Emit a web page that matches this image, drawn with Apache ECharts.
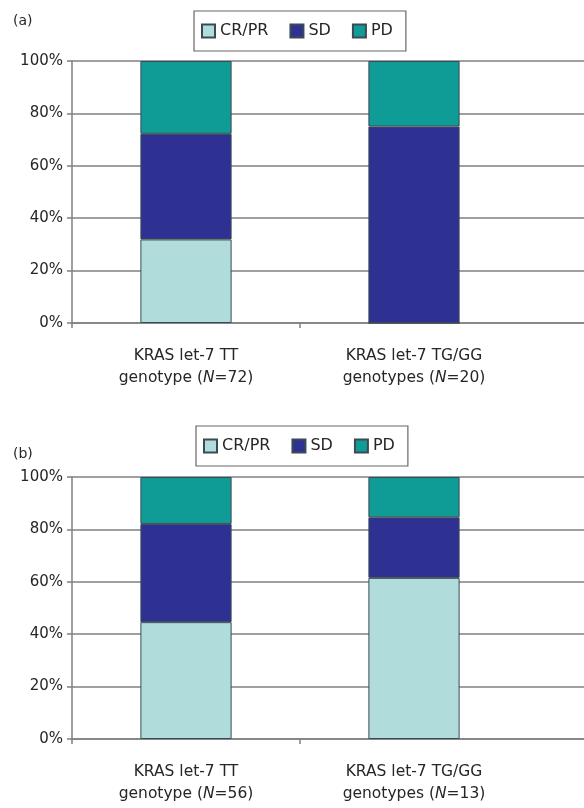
<!DOCTYPE html>
<html>
<head>
<meta charset="utf-8">
<style>
  html, body { margin: 0; padding: 0; background: #fff; }
  #chart { width: 584px; height: 808px; }
</style>
<script src="https://cdn.jsdelivr.net/npm/echarts@6/dist/echarts.min.js"></script>
</head>
<body>
<div id="chart"></div>
<script>
// Response categories and their colours
const responseNames = ['CR/PR', 'SD', 'PD'];
const responseColors = ['#b0dcdc', '#2e3192', '#0f9b96'];

// Genotype groups (first and second label lines per panel)
const genotypeLine1 = ['KRAS let-7 TT', 'KRAS let-7 TG/GG'];
const genotypeLine2A = ['genotype (N=72)', 'genotypes (N=20)'];
const genotypeLine2B = ['genotype (N=56)', 'genotypes (N=13)'];

// Panel (a): percentage of patients per response
const crprA = [31.9, 0];
const sdA = [40.3, 75.0];
const pdA = [27.8, 25.0];

// Panel (b): percentage of patients per response
const crprB = [44.6, 61.5];
const sdB = [37.5, 23.1];
const pdB = [17.9, 15.4];

// Y-axis ticks
const yTicks = [0, 20, 40, 60, 80, 100];

const FONT = 'DejaVu Sans';
const TEXT = '#262626';
const LINE = '#808080';

const chart = echarts.init(document.getElementById('chart'));

// Geometry of the two panels
const panels = [
  { top: 61, line2: genotypeLine2A, data: [crprA, sdA, pdA], legendTop: 11, legendLeft: 194, tag: '(a)', tagTop: 9 },
  { top: 477, line2: genotypeLine2B, data: [crprB, sdB, pdB], legendTop: 426, legendLeft: 196, tag: '(b)', tagTop: 442 }
];
const plotH = 262;
const plotLeft = 72;
const bandW = 228;           // width of one genotype band
const chartW = 584;

const grid = [], xAxis = [], yAxis = [], series = [], legend = [], title = [];

function richLabel(line2) {
  return function (value, index) {
    const parts = line2[index].split('N=');
    return '{a|' + value + '}\n{b|' + parts[0] + '}{i|N}{b|=' + parts[1] + '}';
  };
}

panels.forEach(function (p, k) {
  // Grid holding the y axis and the horizontal gridlines (full width)
  grid.push({ left: plotLeft, right: 0, top: p.top, height: plotH, containLabel: false });
  // Grid holding the bars (two bands)
  grid.push({ left: plotLeft, width: bandW * 2, top: p.top, height: plotH, containLabel: false });

  const gLine = 2 * k, gBar = 2 * k + 1;

  xAxis.push({
    gridIndex: gLine, type: 'value', min: 0, max: (chartW - plotLeft) / bandW,
    axisLine: { show: true, lineStyle: { color: LINE, width: 1.5 } },
    axisTick: { show: true, length: 5, inside: false, customValues: [0, 1], lineStyle: { color: LINE, width: 1.5 } },
    axisLabel: { show: false }, splitLine: { show: false }
  });
  yAxis.push({
    gridIndex: gLine, type: 'value', min: 0, max: 100, interval: 20,
    axisLine: { show: true, lineStyle: { color: LINE, width: 1.5 } },
    axisTick: { show: true, length: 5, inside: false, lineStyle: { color: LINE, width: 1.5 } },
    axisLabel: { formatter: '{value}%', color: TEXT, fontFamily: FONT, fontSize: 15, margin: 9 },
    splitLine: { show: true, lineStyle: { color: LINE, width: 1.5 } }
  });

  xAxis.push({
    gridIndex: gBar, type: 'category', data: genotypeLine1,
    axisLine: { show: false }, axisTick: { show: false },
    axisLabel: {
      interval: 0, margin: 22, formatter: richLabel(p.line2),
      rich: {
        a: { fontFamily: FONT, fontSize: 15.5, color: TEXT, lineHeight: 22 },
        b: { fontFamily: FONT, fontSize: 15.5, color: TEXT, lineHeight: 22 },
        i: { fontFamily: FONT, fontSize: 15.5, color: TEXT, lineHeight: 22, fontStyle: 'italic' }
      }
    }
  });
  yAxis.push({
    gridIndex: gBar, type: 'value', min: 0, max: 100, show: false,
    splitLine: { show: false }
  });

  responseNames.forEach(function (name, j) {
    series.push({
      name: name, type: 'bar', stack: 'panel' + k,
      xAxisIndex: gBar, yAxisIndex: gBar,
      barWidth: '40%',
      data: p.data[j],
      itemStyle: { color: responseColors[j], borderColor: '#3c4a55', borderWidth: 1 },
      emphasis: { disabled: true }
    });
  });

  legend.push({
    data: responseNames, top: p.legendTop, left: p.legendLeft,
    orient: 'horizontal', icon: 'rect', itemWidth: 13, itemHeight: 13, itemGap: 21,
    padding: [12, 13, 12, 7],
    borderColor: '#666', borderWidth: 1.2, backgroundColor: '#fff',
    textStyle: { fontFamily: FONT, fontSize: 16, color: TEXT },
    selectedMode: false
  });

  title.push({
    text: p.tag, left: 8, top: p.tagTop,
    textStyle: { fontFamily: FONT, fontSize: 14, fontWeight: 'normal', color: TEXT }
  });
});

chart.setOption({
  animation: false,
  backgroundColor: '#fff',
  title: title,
  legend: legend,
  grid: grid,
  xAxis: xAxis,
  yAxis: yAxis,
  series: series
});
</script>
</body>
</html>
